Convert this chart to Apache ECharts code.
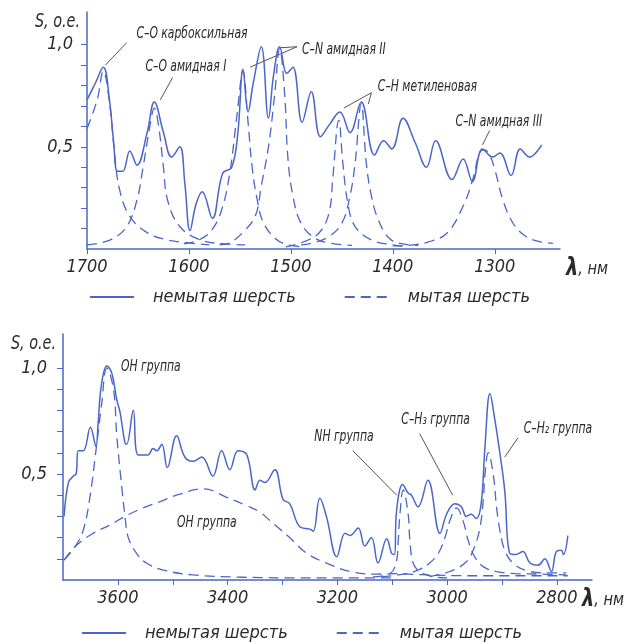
<!DOCTYPE html>
<html>
<head>
<meta charset="utf-8">
<script src="https://cdn.jsdelivr.net/npm/echarts@6/dist/echarts.min.js"></script>
<style>
  html, body { margin: 0; background: #fff; }
  #chart { width: 633px; height: 644px; }
</style>
</head>
<body>
<div id="chart"></div>
<script>
// --- data: [wavelength nm, S o.e.] ---
const topUnwashed = [
  [1700,0.73],[1692,0.81],[1684,0.89],[1678,0.73],[1674,0.53],[1670,0.38],[1665,0.38],[1658,0.48],
  [1651,0.41],[1641,0.57],[1634,0.72],[1625,0.57],[1617,0.45],[1609,0.50],[1604,0.32],[1599,0.09],
  [1593,0.22],[1587,0.28],[1577,0.15],[1567,0.37],[1558,0.40],[1552,0.57],[1547,0.88],[1542,0.67],
  [1537,0.81],[1529,0.99],[1522,0.64],[1517,0.85],[1511,0.99],[1504,0.86],[1498,0.89],[1489,0.62],
  [1480,0.77],[1471,0.55],[1462,0.61],[1452,0.67],[1442,0.57],[1431,0.72],[1418,0.46],[1409,0.53],
  [1401,0.49],[1390,0.64],[1378,0.52],[1367,0.40],[1358,0.53],[1342,0.34],[1331,0.44],[1322,0.33],
  [1312,0.49],[1302,0.45],[1295,0.47],[1284,0.36],[1275,0.49],[1266,0.45],[1254,0.51]
];
const topCO1 = [[1700,0.59],[1690,0.73],[1684,0.87],[1678,0.72],[1673,0.47],[1668,0.29],[1658,0.16],
  [1641,0.08],[1622,0.045],[1600,0.03],[1580,0.02]];
const topCO2 = [[1700,0.02],[1677,0.045],[1661,0.11],[1651,0.24],[1645,0.40],[1638,0.61],[1634,0.69],
  [1630,0.61],[1625,0.40],[1621,0.24],[1609,0.11],[1589,0.045],[1565,0.025],[1545,0.02]];
const topCN1 = [[1605,0.025],[1590,0.045],[1578,0.09],[1568,0.19],[1560,0.37],[1553,0.65],[1547,0.87],
  [1542,0.62],[1538,0.40],[1533,0.24],[1527,0.13],[1515,0.05],[1503,0.02],[1490,0.012]];
const topCN2 = [[1570,0.02],[1560,0.03],[1548,0.077],[1535,0.16],[1529,0.31],[1522,0.50],[1516,0.75],
  [1511,0.98],[1506,0.75],[1503,0.45],[1498,0.26],[1490,0.126],[1476,0.052],[1460,0.028],[1440,0.018]];
const topCH1 = [[1505,0.01],[1483,0.044],[1470,0.093],[1462,0.19],[1459,0.34],[1453,0.63],[1449,0.42],
  [1444,0.22],[1437,0.11],[1421,0.044],[1400,0.02],[1385,0.012]];
const topCH2 = [[1490,0.02],[1480,0.028],[1463,0.06],[1450,0.126],[1442,0.26],[1437,0.42],[1431,0.71],
  [1426,0.42],[1421,0.26],[1414,0.14],[1403,0.05],[1390,0.025],[1375,0.018]];
const topCN3 = [[1400,0.015],[1380,0.02],[1365,0.035],[1347,0.077],[1331,0.21],[1321,0.35],[1315,0.47],
  [1310,0.485],[1305,0.46],[1300,0.39],[1292,0.24],[1282,0.126],[1269,0.06],[1255,0.035],[1243,0.028]];

const botUnwashed = [
  [3698,0.30],[3690,0.46],[3681,0.49],[3676,0.50],[3672,0.61],[3663,0.61],[3650,0.72],[3640,0.63],
  [3636,0.74],[3630,0.92],[3620,1.01],[3611,0.975],[3602,0.85],[3596,0.79],[3587,0.645],[3584,0.64],
  [3572,0.80],[3563,0.59],[3545,0.59],[3536,0.62],[3529,0.61],[3520,0.64],[3510,0.53],[3493,0.68],
  [3478,0.58],[3463,0.56],[3447,0.58],[3427,0.49],[3411,0.61],[3396,0.52],[3381,0.61],[3365,0.59],
  [3350,0.425],[3341,0.47],[3332,0.46],[3314,0.52],[3299,0.38],[3287,0.36],[3268,0.25],[3250,0.24],
  [3244,0.23],[3232,0.385],[3220,0.30],[3201,0.11],[3186,0.22],[3177,0.21],[3162,0.245],[3150,0.16],
  [3138,0.20],[3126,0.08],[3110,0.195],[3101,0.125],[3096,0.12],[3092,0.33],[3081,0.45],[3071,0.41],
  [3065,0.40],[3053,0.345],[3035,0.47],[3013,0.22],[3001,0.31],[2986,0.36],[2974,0.345],[2965,0.30],
  [2956,0.31],[2947,0.29],[2938,0.36],[2931,0.63],[2922,0.88],[2913,0.755],[2904,0.60],[2895,0.42],
  [2886,0.126],[2875,0.12],[2862,0.134],[2849,0.08],[2834,0.07],[2822,0.10],[2810,0.04],[2801,0.134],
  [2792,0.14],[2788,0.12],[2780,0.21]
];
const botOH1 = [[3698,0.094],[3678,0.157],[3663,0.236],[3651,0.39],[3639,0.63],[3630,0.82],[3620,1.0],
  [3608,0.90],[3602,0.68],[3593,0.44],[3587,0.30],[3581,0.20],[3566,0.126],[3548,0.08],[3517,0.047],
  [3463,0.024],[3372,0.013],[3250,0.01],[3100,0.01]];
const botOH2 = [[3698,0.094],[3675,0.165],[3645,0.22],[3614,0.26],[3587,0.30],[3554,0.34],[3523,0.37],
  [3487,0.405],[3444,0.43],[3402,0.39],[3365,0.35],[3341,0.32],[3323,0.28],[3287,0.20],[3256,0.126],
  [3220,0.08],[3177,0.04],[3129,0.028],[3092,0.03],[3050,0.025],[2950,0.02],[2780,0.02]];
const botNH = [[3135,0.015],[3104,0.03],[3092,0.094],[3089,0.19],[3086,0.31],[3080,0.425],[3071,0.31],
  [3068,0.19],[3062,0.08],[3050,0.04],[3026,0.016],[3000,0.01]];
const botCH3 = [[3120,0.015],[3075,0.03],[3050,0.05],[3032,0.08],[3016,0.126],[3004,0.20],[2995,0.28],
  [2983,0.34],[2971,0.28],[2962,0.19],[2950,0.11],[2934,0.063],[2910,0.04],[2874,0.03],[2831,0.028],[2783,0.024]];
const botCH2 = [[3032,0.016],[2995,0.04],[2965,0.086],[2950,0.157],[2940,0.25],[2934,0.38],[2931,0.50],
  [2925,0.60],[2916,0.50],[2910,0.345],[2904,0.236],[2895,0.14],[2880,0.08],[2855,0.044],[2819,0.034],[2783,0.034]];

const topLabels = [1700, 1600, 1500, 1400, 1300];
const botLabels = [3600, 3400, 3200, 3000, 2800];
const botTicks = [3600, 3500, 3400, 3300, 3200, 3100, 3000, 2900, 2800];
const yLabels = [0.5, 1.0];
const yTicks = [0.1, 0.2, 0.3, 0.4, 0.5, 0.6, 0.7, 0.8, 0.9, 1.0];

const SOLID = 'немытая шерсть';
const DASHED = 'мытая шерсть';

// annotation anchors in data coords
const topNotes = [
  { text: 'C–O карбоксильная', at: [1597, 1.05], lines: [[[1661, 1.01], [1682, 0.90]]] },
  { text: 'C–O амидная I', at: [1603, 0.89], lines: [[[1616, 0.84], [1628, 0.73]]] },
  { text: 'C–N амидная II', at: [1448, 0.975], lines: [[[1494, 0.99], [1540, 0.89]], [[1494, 0.99], [1511, 0.985]]] },
  { text: 'C–H метиленовая', at: [1366, 0.79], lines: [[[1421, 0.765], [1448, 0.69]], [[1421, 0.765], [1424, 0.71]]] },
  { text: 'C–N амидная III', at: [1296, 0.62], lines: [[[1305, 0.58], [1312, 0.51]]] },
];
const botNotes = [
  { text: 'OH группа', at: [3540, 1.005], lines: [] },
  { text: 'OH группа', at: [3438, 0.27], lines: [] },
  { text: 'NH группа', at: [3188, 0.675], lines: [[[3172, 0.61], [3092, 0.40]]] },
  { text: 'C–H₃ группа', at: [3021, 0.755], lines: [[[3050, 0.69], [2990, 0.40]]] },
  { text: 'C–H₂ группа', at: [2798, 0.71], lines: [[[2871, 0.67], [2895, 0.58]]] },
];

const BLUE = '#4a66c8';
const TEXT = '#2a2a2a';
const FONT = "'Liberation Sans Narrow', 'DejaVu Sans Condensed', sans-serif";
const NARROW = 0.8;

const chart = echarts.init(document.getElementById('chart'));

function solid(data, idx) {
  return { name: SOLID, type: 'line', xAxisIndex: idx, yAxisIndex: idx, data, symbol: 'none',
    smooth: 0.4, lineStyle: { color: BLUE, width: 1.5 }, itemStyle: { color: BLUE } };
}
function dashed(data, idx) {
  return { name: DASHED, type: 'line', xAxisIndex: idx, yAxisIndex: idx, data, symbol: 'none',
    smooth: 0.4, lineStyle: { color: BLUE, width: 1.3, type: [10, 6] }, itemStyle: { color: BLUE } };
}

function xAxis(idx, min, max, labels, ticks) {
  return {
    type: 'value', gridIndex: idx, inverse: true, min, max,
    axisLine: { lineStyle: { color: BLUE, width: 1.5 } },
    axisTick: { show: true, length: 5, lineStyle: { color: BLUE }, customValues: ticks },
    axisLabel: { color: TEXT, fontFamily: FONT, fontStyle: 'italic', fontSize: 18, margin: 9,
      customValues: labels, formatter: (v) => String(v) },
    splitLine: { show: false },
  };
}
function yAxis(idx, margin) {
  return {
    type: 'value', gridIndex: idx, min: 0, max: 1.16,
    axisLine: { show: true, lineStyle: { color: BLUE, width: 1.5 } },
    axisTick: { show: true, length: 6, lineStyle: { color: BLUE }, customValues: yTicks },
    axisLabel: { color: TEXT, fontFamily: FONT, fontStyle: 'italic', fontSize: 18, margin,
      customValues: yLabels, formatter: (v) => v.toFixed(1).replace('.', ',') },
    splitLine: { show: false },
  };
}

const legendBase = {
  data: [SOLID, DASHED], orient: 'horizontal', itemWidth: 44, itemHeight: 10, itemGap: 48,
  itemStyle: { opacity: 0 },
  textStyle: { color: TEXT, fontFamily: FONT, fontStyle: 'italic', fontSize: 18, padding: [0, 0, 0, 14] },
};

chart.setOption({
  animation: false,
  backgroundColor: '#fff',
  grid: [
    { left: 87, right: 73, top: 12, bottom: 395 },
    { left: 63, right: 41, top: 334, bottom: 64 },
  ],
  xAxis: [xAxis(0, 1236, 1700, topLabels, topLabels), xAxis(1, 2736, 3700, botLabels, botTicks)],
  yAxis: [yAxis(0, 14), yAxis(1, 16)],
  legend: [
    Object.assign({}, legendBase, { left: 84, top: 283 }),
    Object.assign({}, legendBase, { left: 76, top: 619 }),
  ],
  series: [
    solid(topUnwashed, 0),
    dashed(topCO1, 0), dashed(topCO2, 0), dashed(topCN1, 0), dashed(topCN2, 0),
    dashed(topCH1, 0), dashed(topCH2, 0), dashed(topCN3, 0),
    solid(botUnwashed, 1),
    dashed(botOH1, 1), dashed(botOH2, 1), dashed(botNH, 1), dashed(botCH3, 1), dashed(botCH2, 1),
  ],
});

function noteGraphics(notes, gridIndex) {
  const out = [];
  notes.forEach((n) => {
    const p = chart.convertToPixel({ gridIndex }, n.at);
    out.push({ type: 'text', x: p[0], y: p[1], scaleX: NARROW, silent: true,
      style: { text: n.text, fill: TEXT, fontFamily: FONT, fontStyle: 'italic', fontSize: 15,
        align: 'center', verticalAlign: 'middle' } });
    n.lines.forEach((l) => {
      const a = chart.convertToPixel({ gridIndex }, l[0]);
      const b = chart.convertToPixel({ gridIndex }, l[1]);
      out.push({ type: 'line', silent: true, shape: { x1: a[0], y1: a[1], x2: b[0], y2: b[1] },
        style: { stroke: '#555', lineWidth: 1 } });
    });
  });
  return out;
}

function axisNames(gridIndex, xmax, xmin, nameShift) {
  const yTop = chart.convertToPixel({ gridIndex }, [xmax, 1.16]);
  const end = chart.convertToPixel({ gridIndex }, [xmin, 0]);
  return [
    { type: 'text', x: yTop[0] - 7, y: yTop[1] + 10, scaleX: NARROW, silent: true,
      style: { text: 'S, o.e.', fill: TEXT, fontFamily: FONT, fontStyle: 'italic', fontSize: 20,
        align: 'right', verticalAlign: 'middle' } },
    { type: 'text', x: end[0] + nameShift, y: end[1] + 20, scaleX: 0.9, silent: true,
      style: { text: '{l|λ}, нм', fill: TEXT, fontFamily: FONT, fontStyle: 'italic', fontSize: 18,
        align: 'left', verticalAlign: 'middle',
        rich: { l: { fontFamily: FONT, fontWeight: 'bold', fontStyle: 'italic', fontSize: 24, fill: TEXT } } } },
  ];
}

chart.setOption({
  graphic: [
    ...noteGraphics(topNotes, 0),
    ...noteGraphics(botNotes, 1),
    ...axisNames(0, 1700, 1236, 6),
    ...axisNames(1, 3700, 2736, -10),
  ],
});
</script>
</body>
</html>
